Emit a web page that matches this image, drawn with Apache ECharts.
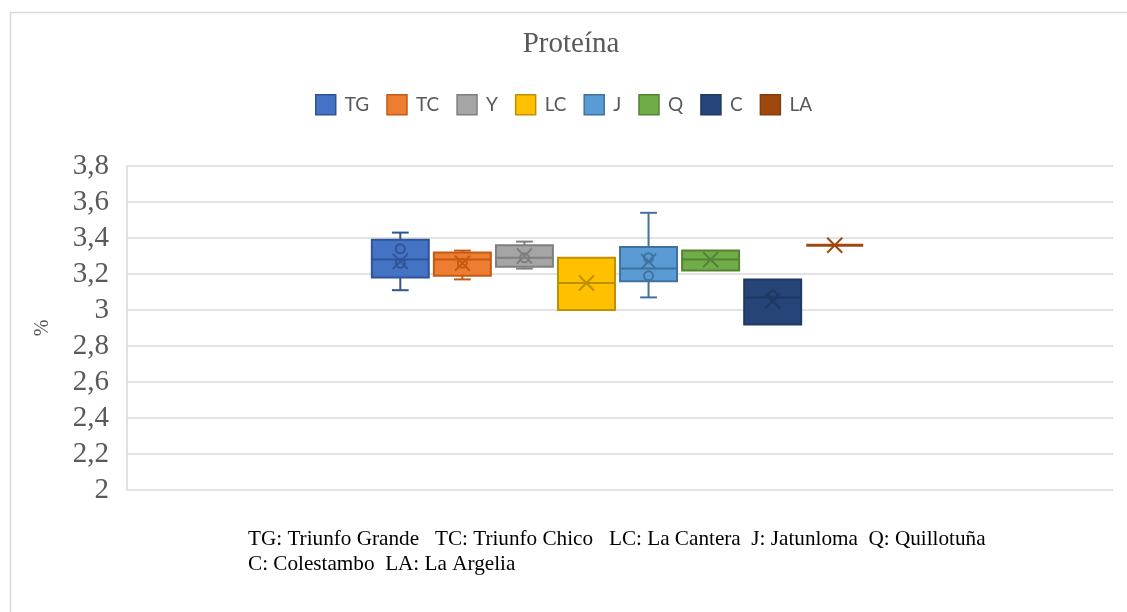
<!DOCTYPE html>
<html>
<head>
<meta charset="utf-8">
<script src="https://cdn.jsdelivr.net/npm/echarts@6/dist/echarts.min.js"></script>
<style>html,body{margin:0;padding:0;background:#fff;}#chart{width:1127px;height:612px;}</style>
</head>
<body>
<div id="chart"></div>
<script>
// ---- data ----
var categories = ['TG', 'TC', 'Y', 'LC', 'J', 'Q', 'C', 'LA'];
var whiskerMin = [3.11, 3.17, 3.23, 3.00, 3.07, 3.22, 2.92, 3.36];
var q1Values   = [3.18, 3.19, 3.24, 3.00, 3.16, 3.22, 2.92, 3.36];
var medians    = [3.28, 3.28, 3.29, 3.15, 3.23, 3.28, 3.07, 3.36];
var q3Values   = [3.39, 3.32, 3.36, 3.29, 3.35, 3.33, 3.17, 3.36];
var whiskerMax = [3.43, 3.33, 3.38, 3.29, 3.54, 3.33, 3.17, 3.36];
var means      = [3.27, 3.26, 3.30, 3.15, 3.27, 3.28, 3.05, 3.36];
var innerPoints = [[3.34, 3.26], [3.26], [3.29], [], [3.29, 3.19], [], [3.08], []];
var yTicks = [2, 2.2, 2.4, 2.6, 2.8, 3, 3.2, 3.4, 3.6, 3.8];
var noteLine1 = 'TG: Triunfo Grande   TC: Triunfo Chico   LC: La Cantera  J: Jatunloma  Q: Quillotuña';
var noteLine2 = 'C: Colestambo  LA: La Argelia';

var fillColors = ['#4472C4', '#ED7D31', '#A5A5A5', '#FFC000', '#5B9BD5', '#70AD47', '#264478', '#9E480E'];
var lineColors = ['#2F5597', '#C55A11', '#7F7F7F', '#BF9000', '#41719C', '#548235', '#1F3864', '#843C0C'];

var chart = echarts.init(document.getElementById('chart'));

function makeRender(idx) {
  return function (params, api) {
    var x = api.value(0);
    var c = api.coord([x, api.value(3)]);
    var cx = c[0];
    var half = api.size([0.918, 0])[0] / 2;
    var capHalf = api.size([0.27, 0])[0] / 2;
    var yMin = api.coord([x, api.value(1)])[1];
    var yQ1 = api.coord([x, api.value(2)])[1];
    var yMed = api.coord([x, api.value(3)])[1];
    var yQ3 = api.coord([x, api.value(4)])[1];
    var yMax = api.coord([x, api.value(5)])[1];
    var yMean = api.coord([x, api.value(6)])[1];
    var lc = lineColors[idx];
    var children = [];
    var lineStyle = {stroke: lc, lineWidth: 2};
    if (Math.abs(yQ1 - yQ3) > 0.5) {
      if (yMax < yQ3 - 0.5) {
        children.push({type: 'line', shape: {x1: cx, y1: yQ3, x2: cx, y2: yMax}, style: lineStyle});
        children.push({type: 'line', shape: {x1: cx - capHalf, y1: yMax, x2: cx + capHalf, y2: yMax}, style: lineStyle});
      }
      if (yMin > yQ1 + 0.5) {
        children.push({type: 'line', shape: {x1: cx, y1: yQ1, x2: cx, y2: yMin}, style: lineStyle});
        children.push({type: 'line', shape: {x1: cx - capHalf, y1: yMin, x2: cx + capHalf, y2: yMin}, style: lineStyle});
      }
      children.push({type: 'rect', shape: {x: cx - half, y: yQ3, width: 2 * half, height: yQ1 - yQ3},
        style: {fill: fillColors[idx], stroke: lc, lineWidth: 2}});
      children.push({type: 'line', shape: {x1: cx - half, y1: yMed, x2: cx + half, y2: yMed}, style: lineStyle});
    } else {
      children.push({type: 'line', shape: {x1: cx - half, y1: yMed, x2: cx + half, y2: yMed},
        style: {stroke: fillColors[idx], lineWidth: 3}});
    }
    var pts = innerPoints[idx];
    for (var k = 0; k < pts.length; k++) {
      var py = api.coord([x, pts[k]])[1];
      children.push({type: 'circle', shape: {cx: cx, cy: py, r: 4.5}, style: {fill: null, stroke: lc, lineWidth: 2}});
    }
    var m = 7.5;
    var xc = Math.abs(yQ1 - yQ3) > 0.5 ? lc : fillColors[idx];
    children.push({type: 'line', shape: {x1: cx - m, y1: yMean - m, x2: cx + m, y2: yMean + m}, style: {stroke: xc, lineWidth: 2}});
    children.push({type: 'line', shape: {x1: cx - m, y1: yMean + m, x2: cx + m, y2: yMean - m}, style: {stroke: xc, lineWidth: 2}});
    return {type: 'group', children: children};
  };
}

var series = categories.map(function (name, i) {
  return {
    type: 'custom',
    name: name,
    renderItem: makeRender(i),
    itemStyle: {color: fillColors[i], borderColor: lineColors[i], borderWidth: 1.5},
    encode: {x: 0, y: [1, 2, 3, 4, 5, 6]},
    data: [[i, whiskerMin[i], q1Values[i], medians[i], q3Values[i], whiskerMax[i], means[i]]]
  };
});

var noteFont = '21.2px "Liberation Serif"';
var graphics = [
  {type: 'rect', left: 8, top: 10, z: -10, silent: true,
    shape: {width: 1140, height: 620}, style: {fill: null, stroke: '#d9d9d9', lineWidth: 1.5}},
  {type: 'text', left: 248, top: 529, style: {text: noteLine1, font: noteFont, fill: '#000000'}},
  {type: 'text', left: 248, top: 554, style: {text: noteLine2, font: noteFont, fill: '#000000'}}
];

var option = {
  backgroundColor: '#ffffff',
  animation: false,
  title: {
    text: 'Proteína',
    left: 566, top: 25, textAlign: 'center',
    textStyle: {fontFamily: 'Liberation Serif', fontSize: 29, fontWeight: 'normal', color: '#595959'}
  },
  legend: {
    data: categories.map(function (n, i) {
      return {name: n, icon: 'rect', itemStyle: {color: fillColors[i], borderColor: lineColors[i], borderWidth: 1.5}};
    }),
    left: 'center', top: 94, padding: 0,
    itemWidth: 20, itemHeight: 20, itemGap: 17,
    textStyle: {fontFamily: 'Lato', fontSize: 19, color: '#595959', padding: [0, 0, 0, 4]}
  },
  grid: {left: 127, right: 14, top: 166, bottom: 122, containLabel: false},
  xAxis: {
    type: 'value', min: -4.404, max: 11.484,
    show: false
  },
  yAxis: {
    type: 'value', min: 2, max: 3.8, interval: 0.2,
    name: '%', nameLocation: 'middle', nameGap: 74, nameRotate: 90,
    nameTextStyle: {fontFamily: 'Liberation Serif', fontSize: 20, color: '#595959'},
    axisLine: {show: true, onZero: false, lineStyle: {color: '#d9d9d9', width: 1.5}},
    axisTick: {show: false},
    axisLabel: {
      fontFamily: 'Liberation Serif', fontSize: 29, color: '#595959', margin: 18,
      formatter: function (v) { return String(Number(v.toFixed(1))).replace('.', ','); }
    },
    splitLine: {lineStyle: {color: '#d9d9d9', width: 1.5}}
  },
  graphic: graphics,
  series: series
};
chart.setOption(option);
</script>
</body>
</html>
